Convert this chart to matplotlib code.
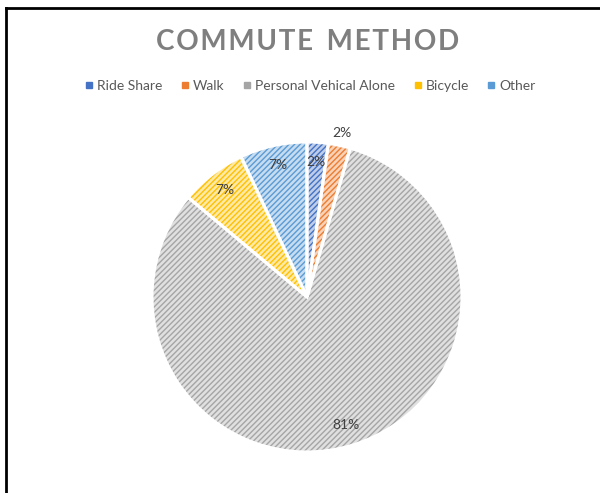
import numpy as np
import matplotlib
matplotlib.use('Agg')
import matplotlib.pyplot as plt
from matplotlib.lines import Line2D
from matplotlib.colors import to_rgb

plt.rcParams['font.family'] = ['Lato', 'DejaVu Sans']
plt.rcParams['hatch.linewidth'] = 1.0

labels = ['Ride Share', 'Walk', 'Personal Vehical Alone', 'Bicycle', 'Other']
values = [2.2, 2.3, 81.6, 6.9, 7.0]
pct_text = ['2%', '2%', '81%', '7%', '7%']
colors = ['#4472C4', '#ED7D31', '#A5A5A5', '#FFC000', '#5B9BD5']
title = 'COMMUTE METHOD'


def lighten(c, f=0.65):
    r, g, b = to_rgb(c)
    return (r + (1 - r) * f, g + (1 - g) * f, b + (1 - b) * f)


def spaced(s):
    # hair spaces between letters to widen the title a little
    return '  '.join('\u200a'.join(word) for word in s.split())


fig = plt.figure(figsize=(6.0, 4.93), dpi=100)
ax = fig.add_axes([0.2533, 0.0832, 0.5167, 0.6288])

# hatched fill
wedges, _ = ax.pie(values, startangle=90, counterclock=False, radius=1,
                   colors=[lighten(c) for c in colors],
                   wedgeprops=dict(linewidth=0, hatch='//////'))
for w, c in zip(wedges, colors):
    w.set_edgecolor(c)
    w.set_linewidth(0)
# white separators
ax.pie(values, startangle=90, counterclock=False, radius=1,
       colors=['none'] * len(values),
       wedgeprops=dict(linewidth=2.2, edgecolor='white'))

# data labels
label_r = [0.87, 1.08, 0.86, 0.87, 0.87]
for w, t, r in zip(wedges, pct_text, label_r):
    ang = np.deg2rad((w.theta1 + w.theta2) / 2)
    ax.text(r * np.cos(ang), r * np.sin(ang), t, ha='center', va='center',
            fontsize=10, color='#404040')

ax.set_xlim(-1, 1)
ax.set_ylim(-1, 1)
ax.axis('off')

fig.text(0.512, 0.915, spaced(title), ha='center', va='center',
         fontsize=20, fontweight='bold', color='#7F7F7F')

handles = [Line2D([], [], marker='s', linestyle='none', markersize=5,
                  markerfacecolor=c, markeredgecolor=c) for c in colors]
fig.legend(handles, labels, loc='center', bbox_to_anchor=(0.515, 0.826),
           ncol=5, frameon=False, fontsize=10, handletextpad=0.1,
           columnspacing=1.1, labelcolor='#595959', handlelength=1.0)

# border lines top and left
fig.add_artist(Line2D([6 / 600, 1], [1 - 8 / 493, 1 - 8 / 493],
                      transform=fig.transFigure, color='black', lw=2))
fig.add_artist(Line2D([6 / 600, 6 / 600], [0, 1 - 8 / 493],
                      transform=fig.transFigure, color='black', lw=2))

fig.savefig('out.png', dpi=100)
